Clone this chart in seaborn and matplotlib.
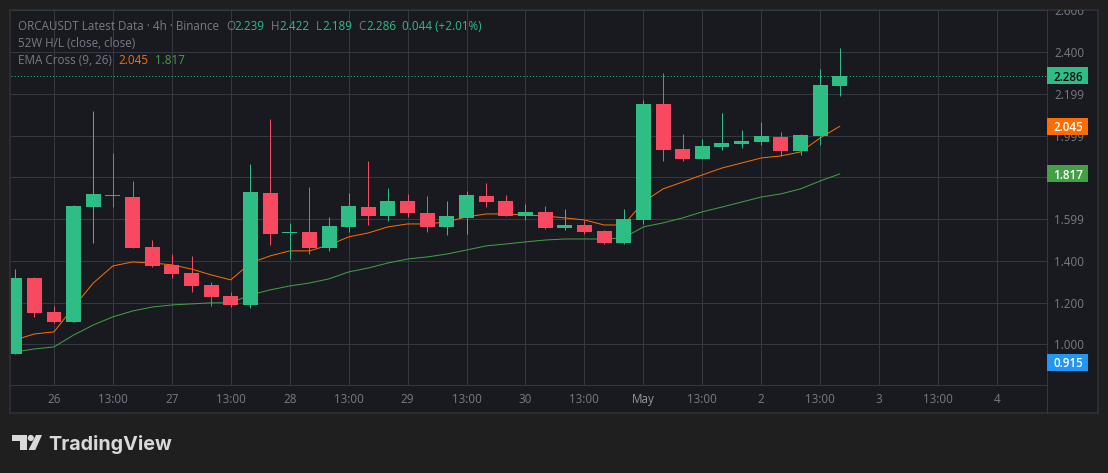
# ORCAUSDT 4h candles with EMA cross, TradingView dark look
import matplotlib
matplotlib.use("Agg")
import matplotlib.pyplot as plt
from matplotlib.patches import Rectangle, Polygon, Circle
from matplotlib.transforms import Bbox, blended_transform_factory
import numpy as np
import pandas as pd
import seaborn as sns

# Candle data
opens = [0.954, 1.318, 1.156, 1.108, 1.658, 1.716, 1.706, 1.467, 1.381, 1.342, 1.285,
         1.232, 1.189, 1.726, 1.534, 1.539, 1.462, 1.563, 1.658, 1.615, 1.687, 1.630,
         1.563, 1.606, 1.711, 1.687, 1.615, 1.635, 1.558, 1.572, 1.543, 1.486, 1.596,
         2.152, 1.936, 1.888, 1.946, 1.960, 1.970, 1.994, 1.927, 1.999, 2.239]
highs = [1.361, 1.323, 1.184, 1.668, 2.118, 1.917, 1.783, 1.500, 1.433, 1.424, 1.299,
         1.251, 1.864, 2.080, 1.582, 1.754, 1.611, 1.726, 1.879, 1.749, 1.721, 1.711,
         1.687, 1.735, 1.773, 1.716, 1.673, 1.663, 1.649, 1.596, 1.548, 1.649, 2.171,
         2.300, 2.008, 1.984, 2.109, 2.027, 2.066, 2.018, 2.008, 2.319, 2.422]
lows = [0.954, 1.132, 1.103, 1.108, 1.486, 1.658, 1.462, 1.371, 1.318, 1.251, 1.184,
        1.179, 1.175, 1.476, 1.409, 1.433, 1.448, 1.539, 1.572, 1.591, 1.611, 1.539,
        1.524, 1.529, 1.658, 1.615, 1.596, 1.553, 1.548, 1.529, 1.481, 1.481, 1.577,
        1.879, 1.879, 1.888, 1.932, 1.941, 1.955, 1.903, 1.908, 1.955, 2.189]
closes = [1.318, 1.151, 1.108, 1.663, 1.721, 1.711, 1.462, 1.376, 1.338, 1.280, 1.227,
          1.189, 1.730, 1.529, 1.539, 1.462, 1.567, 1.663, 1.615, 1.687, 1.630, 1.563,
          1.615, 1.716, 1.682, 1.615, 1.635, 1.558, 1.572, 1.539, 1.486, 1.601, 2.152,
          1.932, 1.888, 1.951, 1.965, 1.975, 1.999, 1.927, 2.003, 2.243, 2.286]
ema_9 = [1.021, 1.050, 1.060, 1.179, 1.294, 1.376, 1.395, 1.390, 1.381, 1.361, 1.333,
         1.309, 1.390, 1.424, 1.448, 1.448, 1.476, 1.515, 1.534, 1.563, 1.577, 1.577,
         1.587, 1.611, 1.625, 1.625, 1.620, 1.615, 1.606, 1.596, 1.572, 1.572, 1.682,
         1.745, 1.778, 1.812, 1.845, 1.869, 1.893, 1.903, 1.922, 1.989, 2.045]
ema_26 = [0.964, 0.978, 0.988, 1.045, 1.093, 1.132, 1.160, 1.179, 1.189, 1.194, 1.199,
          1.199, 1.237, 1.261, 1.280, 1.294, 1.314, 1.347, 1.366, 1.390, 1.409, 1.419,
          1.433, 1.452, 1.472, 1.481, 1.491, 1.500, 1.505, 1.505, 1.505, 1.510, 1.563,
          1.582, 1.606, 1.635, 1.658, 1.682, 1.706, 1.721, 1.745, 1.783, 1.817]

time_labels = ["26", "13:00", "27", "13:00", "28", "13:00", "29", "13:00", "30", "13:00",
               "May", "13:00", "2", "13:00", "3", "13:00", "4"]
price_ticks = [1.000, 1.200, 1.400, 1.599, 1.800, 1.999, 2.199, 2.400, 2.600]
price_labels = ["1.000", "1.200", "1.400", "1.599", "", "1.999", "2.199", "2.400", "2.600"]

tag_values = [2.286, 2.045, 1.817, 0.915]

# Colours
page_bg = "#1f1f1f"
pane_bg = "#181a20"
border = "#2c2d30"
grid_c = "#343843"
text_c = "#787b86"
up_c = "#2ebd85"
down_c = "#f84960"
fast_c = "#ff6d00"
slow_c = "#43a047"
low_c = "#2196f3"
tag_colors = [up_c, fast_c, slow_c, low_c]
tag_text = ["#0c0e12", "white", "white", "white"]

W, H = 1108, 473
FONT = "Open Sans"
FS = 8.35
PX = 0.72  # one pixel at dpi 100

sns.set_theme(style="dark")
plt.rcParams["font.family"] = [FONT, "DejaVu Sans"]
plt.rcParams["axes.unicode_minus"] = False

df = pd.DataFrame({"i": np.arange(len(opens)), "open": opens, "high": highs, "low": lows,
                   "close": closes, "ema9": ema_9, "ema26": ema_26})
df["up"] = df["close"] >= df["open"]
df["color"] = np.where(df["up"], up_c, down_c)
df["bottom"] = df[["open", "close"]].min(axis=1)
df["height"] = (df["open"] - df["close"]).abs()

fig = plt.figure(figsize=(W / 100, H / 100), dpi=100, facecolor=page_bg)


def fx(x):
    return x / W


def fy(y):
    return 1 - y / H


# Outer panel with the border, behind the axes
fig.add_artist(Rectangle((fx(10), fy(413)), 1088 / W, 403 / H, transform=fig.transFigure,
                         facecolor=pane_bg, edgecolor=border, linewidth=1.5, zorder=-2))

ax = fig.add_axes([fx(10.5), fy(385.3), 1036 / W, 375.3 / H], facecolor=pane_bg)
ax.set_xlim(-0.214, 52.52)
ax.set_ylim(0.804, 2.602)

# Grid
x_ticks = np.arange(2, 2 + 3 * len(time_labels), 3)
ax.set_xticks(x_ticks)
ax.set_xticklabels(time_labels)
ax.yaxis.tick_right()
ax.set_yticks(price_ticks)
ax.set_yticklabels(price_labels)
ax.grid(True, color=grid_c, linewidth=PX)
ax.set_axisbelow(True)
ax.tick_params(axis="both", length=0, labelsize=FS, labelcolor=text_c)
ax.tick_params(axis="x", pad=5.5)
ax.tick_params(axis="y", pad=5.5)
ax.get_xticklabels()[10].set_color("#9598a1")
for side in ["top", "left"]:
    ax.spines[side].set_visible(False)
for side in ["bottom", "right"]:
    ax.spines[side].set_color(grid_c)
    ax.spines[side].set_linewidth(PX)

# Top price label is cut by the pane edge
clip = Bbox([[10, H - 413], [1098, H - 10]])
for lab in ax.get_yticklabels():
    lab.set_clip_box(clip)
    lab.set_clip_on(True)

# Right axis rail carries on through the time scale
fig.add_artist(plt.Line2D([fx(1046.5), fx(1046.5)], [fy(385), fy(413)], color=grid_c, linewidth=PX))

# EMA lines sit under the candles
sns.lineplot(data=df, x="i", y="ema9", color=fast_c, linewidth=PX, errorbar=None, ax=ax, zorder=2)
sns.lineplot(data=df, x="i", y="ema26", color=slow_c, linewidth=PX, errorbar=None, ax=ax, zorder=2)
ax.set_xlabel("")
ax.set_ylabel("")

# Candles
wicks = ax.vlines(df["i"], df["low"], df["high"], colors=df["color"], linewidth=PX, zorder=3)
wicks.set_snap(True)
ax.bar(df["i"], df["height"], bottom=df["bottom"], width=0.763, color=df["color"],
       linewidth=0, zorder=4)

# Last price line
ax.axhline(closes[-1], color=up_c, linewidth=PX, linestyle=(0, (1, 2.2)), zorder=2.5)

# Price tags on the scale
tf = blended_transform_factory(ax.transAxes, ax.transData)
for val, col, tcol in zip(tag_values, tag_colors, tag_text):
    ax.add_patch(Rectangle((1.0003, val - 0.0407), 0.0402, 0.0814, transform=tf, facecolor=col,
                           edgecolor="none", clip_on=False, zorder=6))
    ax.text(1.0212, val, f"{val:.3f}", transform=tf, color=tcol, fontsize=FS, fontweight="semibold",
            ha="center", va="center_baseline", clip_on=False, zorder=7)

# Legend rows, placed piece by piece
header = [
    ("ORCAUSDT Latest Data · 4h · Binance", 18, 25, text_c),
    ("O", 226, 25, text_c), ("2.239", 234, 25, up_c),
    ("H", 271, 25, text_c), ("2.422", 279, 25, up_c),
    ("L", 316, 25, text_c), ("2.189", 322, 25, up_c),
    ("C", 358, 25, text_c), ("2.286", 366, 25, up_c),
    ("0.044 (+2.01%)", 402, 25, up_c),
    ("52W H/L (close, close)", 18, 42, text_c),
    ("EMA Cross (9, 26)", 18, 59, text_c),
    ("2.045", 118.5, 59, fast_c),
    ("1.817", 155.5, 59, slow_c),
]
for txt, x, y, col in header:
    fig.text(fx(x), fy(y), txt, color=col, fontsize=FS, ha="left", va="center_baseline", zorder=8)

# TradingView mark
logo_c = "#d9d9d9"
fig.add_artist(Polygon([(fx(12), fy(435)), (fx(26.5), fy(435)), (fx(26.5), fy(450)), (fx(20), fy(450)),
                        (fx(20), fy(441)), (fx(12), fy(441))], closed=True, facecolor=logo_c,
                       edgecolor="none", transform=fig.transFigure))
fig.add_artist(Polygon([(fx(36), fy(435)), (fx(42), fy(435)), (fx(35.3), fy(450)), (fx(28.5), fy(450))],
                       closed=True, facecolor=logo_c, edgecolor="none", transform=fig.transFigure))
fig.add_artist(Circle((30.8, H - 438), 3.1, facecolor=logo_c, edgecolor="none", transform=None))
fig.text(fx(48.5), fy(443), "TradingView", color=logo_c, fontsize=14.2, fontweight="bold",
         family=["Inter", "DejaVu Sans"], ha="left", va="center_baseline")

fig.savefig("out.png", dpi=100, facecolor=page_bg)
